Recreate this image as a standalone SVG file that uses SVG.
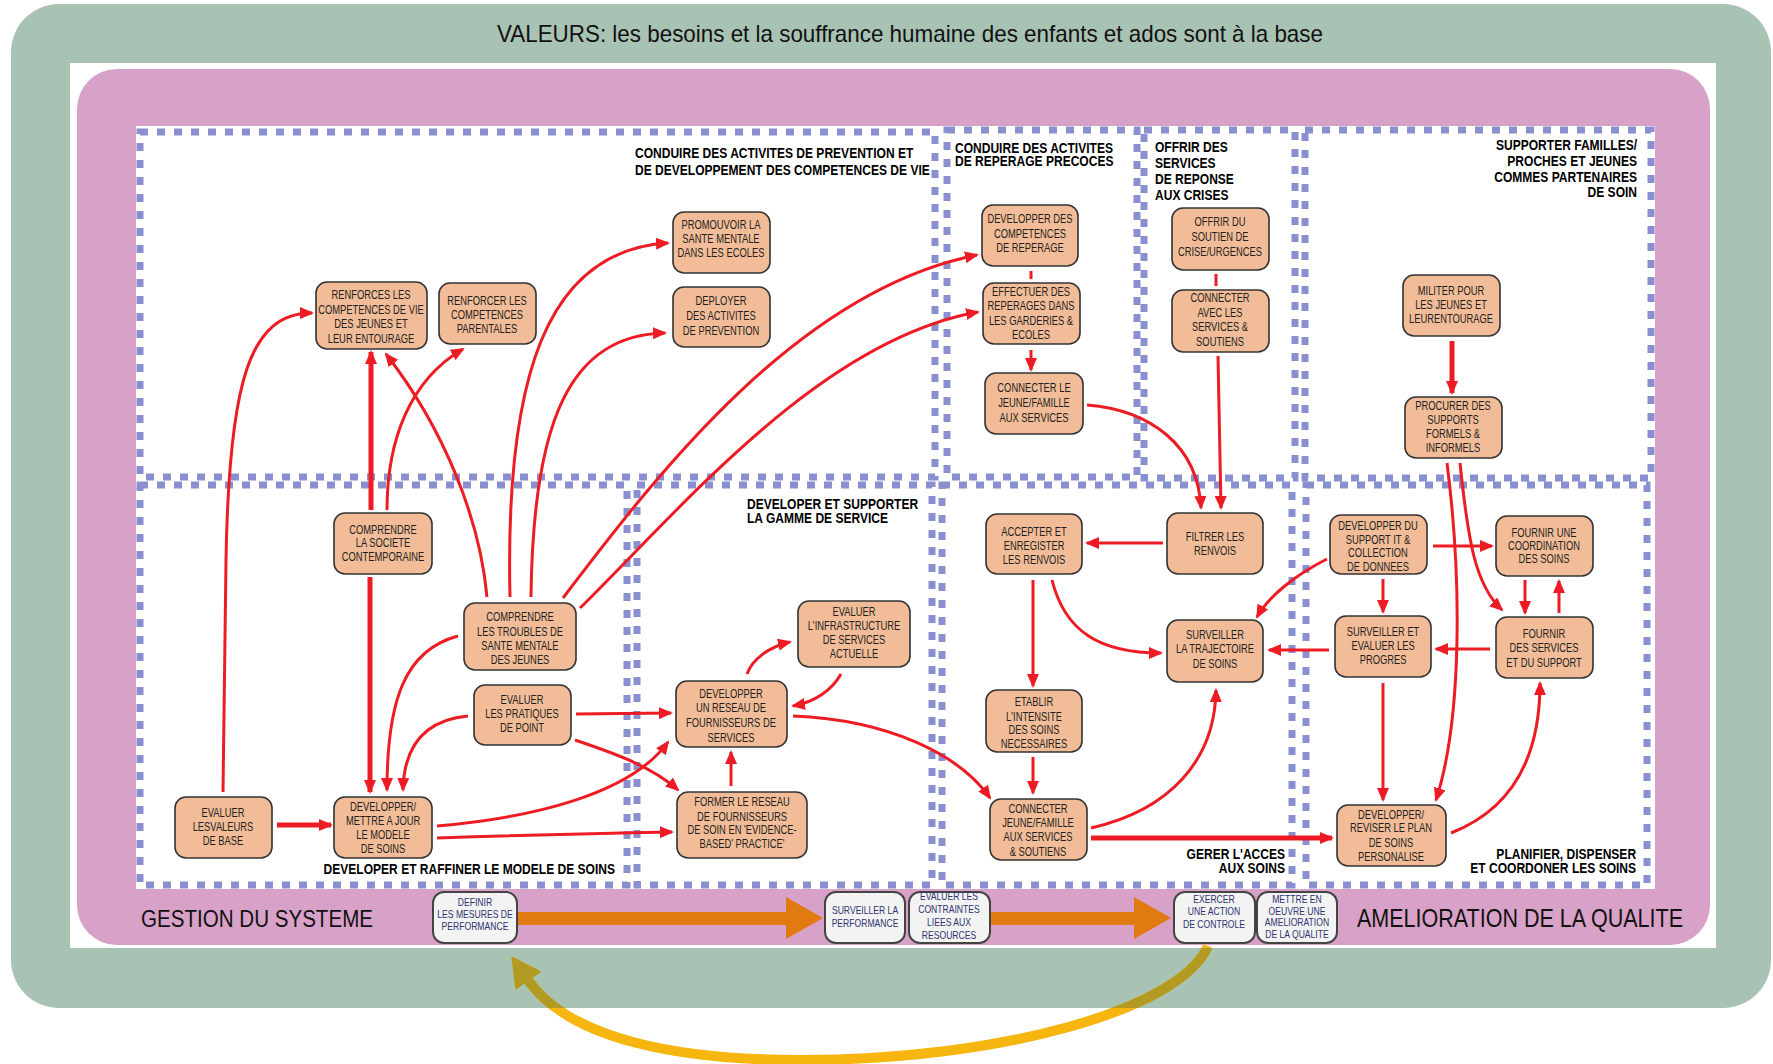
<svg xmlns="http://www.w3.org/2000/svg" width="1773" height="1064" viewBox="0 0 1773 1064">
<style>
.reg{fill:none;stroke:#8A8FD0;stroke-width:7;stroke-dasharray:8 9}
.node rect{fill:#F2BC98;stroke:#333;stroke-width:1.6}
.nt{font-family:"Liberation Sans",Arial,sans-serif;font-size:12px;fill:#231F20;text-anchor:middle;transform-box:fill-box;transform-origin:center;transform:scaleX(0.78)}
.rt{font-family:"Liberation Sans",Arial,sans-serif;font-weight:bold;font-size:14px;fill:#000;transform-box:fill-box;transform:scaleX(0.86)}
.rtl{transform-origin:left center}
.rtr{text-anchor:end;transform-origin:right center}
.c{fill:none;stroke:#ED1C24;stroke-width:3;marker-end:url(#ah)}
.ct{stroke-width:5}
.cn{fill:none;stroke:#ED1C24;stroke-width:3}
.bb rect{fill:#F3F3F3;stroke:#444;stroke-width:2}
.bt{font-family:"Liberation Sans",Arial,sans-serif;font-size:10px;fill:#2E3470;text-anchor:middle;transform-box:fill-box;transform-origin:center;transform:scaleX(0.86)}
.big{font-family:"Liberation Sans",Arial,sans-serif;fill:#111}
</style>
<defs>
<marker id="ah" viewBox="0 0 14 12" refX="12" refY="6" markerWidth="14" markerHeight="12" markerUnits="userSpaceOnUse" orient="auto"><path d="M0,0 L14,6 L0,12 z" fill="#ED1C24"/></marker>
<marker id="ay" viewBox="0 0 30 32" refX="1" refY="16" markerWidth="30" markerHeight="32" markerUnits="userSpaceOnUse" orient="auto"><path d="M0,0 L30,16 L0,32 z" fill="#F6B60F"/></marker>
<marker id="ao" viewBox="0 0 30 32" refX="1" refY="16" markerWidth="30" markerHeight="32" markerUnits="userSpaceOnUse" orient="auto"><path d="M0,0 L30,16 L0,32 z" fill="#B39A22"/></marker>
<clipPath id="greenband"><rect x="0" y="948" width="1773" height="60"/></clipPath>
</defs>
<rect x="0" y="0" width="1773" height="1064" fill="#FFFFFF"/>
<g id="frame">
<rect x="11" y="4" width="1760" height="1004" rx="48" fill="#A8C3B4"/>
<rect x="70" y="63" width="1646" height="885" fill="#FFFFFF"/>
<rect x="77" y="69" width="1633" height="876" rx="40" fill="#D8A1C7"/>
<rect x="136" y="126" width="1519" height="763" fill="#FFFFFF"/>
</g>
<text class="big" x="497" y="42" font-size="24" textLength="826" lengthAdjust="spacingAndGlyphs">VALEURS: les besoins et la souffrance humaine des enfants et ados sont à la base</text>
<g id="regions">
<g id="r-prevention"><rect class="reg" x="140" y="132" width="795" height="345"/>
<text class="rt rtl"><tspan x="635" y="158">CONDUIRE DES ACTIVITES DE PREVENTION ET</tspan><tspan x="635" y="175">DE DEVELOPPEMENT DES COMPETENCES DE VIE</tspan></text></g>
<g id="r-reperage"><rect class="reg" x="947" y="130" width="190" height="347"/>
<text class="rt rtl"><tspan x="955" y="153">CONDUIRE DES ACTIVITES</tspan><tspan x="955" y="166">DE REPERAGE PRECOCES</tspan></text></g>
<g id="r-crises"><rect class="reg" x="1144" y="130" width="151" height="348"/>
<text class="rt rtl"><tspan x="1155" y="152">OFFRIR DES</tspan><tspan x="1155" y="168">SERVICES</tspan><tspan x="1155" y="184">DE REPONSE</tspan><tspan x="1155" y="200">AUX CRISES</tspan></text></g>
<g id="r-familles"><rect class="reg" x="1305" y="130" width="346" height="348"/>
<text class="rt rtr"><tspan x="1637" y="150">SUPPORTER FAMILLES/</tspan><tspan x="1637" y="166">PROCHES ET JEUNES</tspan><tspan x="1637" y="182">COMMES PARTENAIRES</tspan><tspan x="1637" y="197">DE SOIN</tspan></text></g>
<g id="r-modele"><rect class="reg" x="140" y="485" width="487" height="400"/>
<text class="rt rtr"><tspan x="615" y="874">DEVELOPER ET RAFFINER LE MODELE DE SOINS</tspan></text></g>
<g id="r-gamme"><rect class="reg" x="637" y="485" width="295" height="400"/>
<text class="rt rtl"><tspan x="747" y="509">DEVELOPER ET SUPPORTER</tspan><tspan x="747" y="523">LA GAMME DE SERVICE</tspan></text></g>
<g id="r-acces"><rect class="reg" x="942" y="485" width="350" height="400"/>
<text class="rt rtr"><tspan x="1285" y="859">GERER L'ACCES</tspan><tspan x="1285" y="873">AUX SOINS</tspan></text></g>
<g id="r-planifier"><rect class="reg" x="1306" y="485" width="341" height="400"/>
<text class="rt rtr"><tspan x="1636" y="859">PLANIFIER, DISPENSER</tspan><tspan x="1636" y="873">ET COORDONER LES SOINS</tspan></text></g>
</g>
<g id="connectors">
<path class="c" d="M223 792 L226 560 C229 380 250 313 312 313"/>
<path class="c ct" d="M371 510 L371 352"/>
<path class="c" d="M387 510 C387 440 410 380 463 349"/>
<path class="c" d="M487 597 C480 520 445 430 386 354"/>
<path class="c" d="M510 597 C505 380 545 250 668 243"/>
<path class="c" d="M531 597 C533 420 570 335 665 333"/>
<path class="c" d="M563 598 C660 470 800 290 977 255"/>
<path class="c" d="M580 608 C680 510 820 340 978 312"/>
<path class="c" d="M458 636 C405 650 387 700 387 790"/>
<path class="c" d="M468 716 C425 720 404 745 403 790"/>
<path class="c ct" d="M370 577 L370 792"/>
<path class="c ct" d="M277 825 L331 825"/>
<path class="c" d="M437 826 C530 818 630 795 668 742"/>
<path class="c" d="M437 838 Q560 834 672 832"/>
<path class="c" d="M576 714 L671 713"/>
<path class="c" d="M575 740 C610 752 650 765 678 790"/>
<path class="c" d="M731 786 L731 752"/>
<path class="c" d="M747 674 C752 660 768 647 790 642"/>
<path class="c" d="M841 674 C832 690 815 702 793 706"/>
<path class="c" d="M793 716 C890 720 960 755 990 798"/>
<path class="cn" d="M1031 271 L1031 279"/>
<path class="c" d="M1031 350 L1031 370"/>
<path class="cn" d="M1216 274 L1216 286"/>
<path class="c" d="M1087 405 C1150 410 1198 445 1201 508"/>
<path class="c" d="M1218 356 L1221 508"/>
<path class="c ct" d="M1452 341 L1452 393"/>
<path class="c" d="M1033 580 L1033 686"/>
<path class="c" d="M1033 757 L1033 793"/>
<path class="c" d="M1052 580 C1065 632 1100 653 1161 653"/>
<path class="c" d="M1163 543 L1087 543"/>
<path class="c" d="M1327 559 C1295 575 1268 597 1257 617"/>
<path class="c" d="M1329 650 L1269 650"/>
<path class="c" d="M1490 649 L1436 649"/>
<path class="c" d="M1433 546 L1492 546"/>
<path class="c" d="M1383 579 L1383 612"/>
<path class="c" d="M1525 580 L1525 613"/>
<path class="c" d="M1559 613 L1559 581"/>
<path class="c" d="M1383 683 L1383 800"/>
<path class="c" d="M1447 463 C1462 580 1462 720 1436 800"/>
<path class="c" d="M1460 463 C1468 540 1475 585 1502 610"/>
<path class="c" d="M1091 828 C1170 810 1215 760 1216 690"/>
<path class="c ct" d="M1091 838 L1332 838"/>
<path class="c" d="M1451 833 C1510 810 1540 760 1540 683"/>
<g id="orange-arrows" fill="#E27A12">
<rect x="517" y="912" width="272" height="13"/>
<polygon points="786,897 823,918 786,939"/>
<rect x="990" y="912" width="146" height="13"/>
<polygon points="1134,897 1171,918 1134,939"/>
</g>
<path d="M1208 946 C1180 1010 1000 1060 800 1060 C680 1060 570 1040 528 980" fill="none" stroke="#F6B60F" stroke-width="10" marker-end="url(#ay)"/>
<path d="M1208 946 C1180 1010 1000 1060 800 1060 C680 1060 570 1040 528 980" fill="none" stroke="#B39A22" stroke-width="10" marker-end="url(#ao)" clip-path="url(#greenband)"/>
</g>
<g id="nodes">
<g id="n-renforces" class="node"><rect x="316" y="282" width="111" height="67" rx="11"/><text class="nt"><tspan x="371" y="299">RENFORCES LES</tspan><tspan x="371" y="314">COMPETENCES DE VIE</tspan><tspan x="371" y="328">DES JEUNES ET</tspan><tspan x="371" y="343">LEUR ENTOURAGE</tspan></text></g>
<g id="n-parentales" class="node"><rect x="439" y="283" width="97" height="61" rx="11"/><text class="nt"><tspan x="487" y="305">RENFORCER LES</tspan><tspan x="487" y="319">COMPETENCES</tspan><tspan x="487" y="333">PARENTALES</tspan></text></g>
<g id="n-promouvoir" class="node"><rect x="673" y="212" width="97" height="61" rx="11"/><text class="nt"><tspan x="721" y="229">PROMOUVOIR LA</tspan><tspan x="721" y="243">SANTE MENTALE</tspan><tspan x="721" y="257">DANS LES ECOLES</tspan></text></g>
<g id="n-deployer" class="node"><rect x="673" y="287" width="97" height="60" rx="11"/><text class="nt"><tspan x="721" y="305">DEPLOYER</tspan><tspan x="721" y="320">DES ACTIVITES</tspan><tspan x="721" y="335">DE PREVENTION</tspan></text></g>
<g id="n-devcomp" class="node"><rect x="982" y="205" width="96" height="61" rx="11"/><text class="nt"><tspan x="1030" y="223">DEVELOPPER DES</tspan><tspan x="1030" y="238">COMPETENCES</tspan><tspan x="1030" y="252">DE REPERAGE</tspan></text></g>
<g id="n-effectuer" class="node"><rect x="983" y="283" width="97" height="61" rx="11"/><text class="nt"><tspan x="1031" y="296">EFFECTUER DES</tspan><tspan x="1031" y="310">REPERAGES DANS</tspan><tspan x="1031" y="325">LES GARDERIES &amp;</tspan><tspan x="1031" y="339">ECOLES</tspan></text></g>
<g id="n-connecterle" class="node"><rect x="985" y="373" width="98" height="61" rx="11"/><text class="nt"><tspan x="1034" y="392">CONNECTER LE</tspan><tspan x="1034" y="407">JEUNE/FAMILLE</tspan><tspan x="1034" y="422">AUX SERVICES</tspan></text></g>
<g id="n-offrir" class="node"><rect x="1172" y="208" width="97" height="62" rx="11"/><text class="nt"><tspan x="1220" y="226">OFFRIR DU</tspan><tspan x="1220" y="241">SOUTIEN DE</tspan><tspan x="1220" y="256">CRISE/URGENCES</tspan></text></g>
<g id="n-connecteravec" class="node"><rect x="1172" y="290" width="97" height="62" rx="11"/><text class="nt"><tspan x="1220" y="302">CONNECTER</tspan><tspan x="1220" y="317">AVEC LES</tspan><tspan x="1220" y="331">SERVICES &amp;</tspan><tspan x="1220" y="346">SOUTIENS</tspan></text></g>
<g id="n-militer" class="node"><rect x="1403" y="275" width="97" height="61" rx="11"/><text class="nt"><tspan x="1451" y="295">MILITER POUR</tspan><tspan x="1451" y="309">LES JEUNES ET</tspan><tspan x="1451" y="323">LEURENTOURAGE</tspan></text></g>
<g id="n-procurer" class="node"><rect x="1405" y="397" width="97" height="61" rx="11"/><text class="nt"><tspan x="1453" y="410">PROCURER DES</tspan><tspan x="1453" y="424">SUPPORTS</tspan><tspan x="1453" y="438">FORMELS &amp;</tspan><tspan x="1453" y="452">INFORMELS</tspan></text></g>
<g id="n-societe" class="node"><rect x="334" y="513" width="98" height="61" rx="11"/><text class="nt"><tspan x="383" y="534">COMPRENDRE</tspan><tspan x="383" y="547">LA SOCIETE</tspan><tspan x="383" y="561">CONTEMPORAINE</tspan></text></g>
<g id="n-troubles" class="node"><rect x="464" y="603" width="112" height="67" rx="11"/><text class="nt"><tspan x="520" y="621">COMPRENDRE</tspan><tspan x="520" y="636">LES TROUBLES DE</tspan><tspan x="520" y="650">SANTE MENTALE</tspan><tspan x="520" y="664">DES JEUNES</tspan></text></g>
<g id="n-pratiques" class="node"><rect x="474" y="685" width="97" height="60" rx="11"/><text class="nt"><tspan x="522" y="704">EVALUER</tspan><tspan x="522" y="718">LES PRATIQUES</tspan><tspan x="522" y="732">DE POINT</tspan></text></g>
<g id="n-valeurs" class="node"><rect x="175" y="797" width="97" height="61" rx="11"/><text class="nt"><tspan x="223" y="817">EVALUER</tspan><tspan x="223" y="831">LESVALEURS</tspan><tspan x="223" y="845">DE BASE</tspan></text></g>
<g id="n-modele" class="node"><rect x="334" y="797" width="98" height="61" rx="11"/><text class="nt"><tspan x="383" y="811">DEVELOPPER/</tspan><tspan x="383" y="825">METTRE A JOUR</tspan><tspan x="383" y="839">LE MODELE</tspan><tspan x="383" y="853">DE SOINS</tspan></text></g>
<g id="n-infra" class="node"><rect x="798" y="601" width="112" height="66" rx="11"/><text class="nt"><tspan x="854" y="616">EVALUER</tspan><tspan x="854" y="630">L'INFRASTRUCTURE</tspan><tspan x="854" y="644">DE SERVICES</tspan><tspan x="854" y="658">ACTUELLE</tspan></text></g>
<g id="n-reseau" class="node"><rect x="676" y="681" width="111" height="66" rx="11"/><text class="nt"><tspan x="731" y="698">DEVELOPPER</tspan><tspan x="731" y="712">UN RESEAU DE</tspan><tspan x="731" y="727">FOURNISSEURS DE</tspan><tspan x="731" y="742">SERVICES</tspan></text></g>
<g id="n-former" class="node"><rect x="677" y="792" width="130" height="66" rx="11"/><text class="nt"><tspan x="742" y="806">FORMER LE RESEAU</tspan><tspan x="742" y="821">DE FOURNISSEURS</tspan><tspan x="742" y="834">DE SOIN EN 'EVIDENCE-</tspan><tspan x="742" y="848">BASED' PRACTICE'</tspan></text></g>
<g id="n-accepter" class="node"><rect x="986" y="514" width="96" height="60" rx="11"/><text class="nt"><tspan x="1034" y="536">ACCEPTER ET</tspan><tspan x="1034" y="550">ENREGISTER</tspan><tspan x="1034" y="564">LES RENVOIS</tspan></text></g>
<g id="n-etablir" class="node"><rect x="986" y="690" width="96" height="62" rx="11"/><text class="nt"><tspan x="1034" y="706">ETABLIR</tspan><tspan x="1034" y="721">L'INTENSITE</tspan><tspan x="1034" y="734">DES SOINS</tspan><tspan x="1034" y="748">NECESSAIRES</tspan></text></g>
<g id="n-connecterj" class="node"><rect x="990" y="799" width="97" height="61" rx="11"/><text class="nt"><tspan x="1038" y="813">CONNECTER</tspan><tspan x="1038" y="827">JEUNE/FAMILLE</tspan><tspan x="1038" y="841">AUX SERVICES</tspan><tspan x="1038" y="856">&amp; SOUTIENS</tspan></text></g>
<g id="n-filtrer" class="node"><rect x="1167" y="513" width="96" height="61" rx="11"/><text class="nt"><tspan x="1215" y="541">FILTRER LES</tspan><tspan x="1215" y="555">RENVOIS</tspan></text></g>
<g id="n-trajectoire" class="node"><rect x="1167" y="620" width="96" height="62" rx="11"/><text class="nt"><tspan x="1215" y="639">SURVEILLER</tspan><tspan x="1215" y="653">LA TRAJECTOIRE</tspan><tspan x="1215" y="668">DE SOINS</tspan></text></g>
<g id="n-it" class="node"><rect x="1330" y="515" width="97" height="59" rx="11"/><text class="nt"><tspan x="1378" y="530">DEVELOPPER DU</tspan><tspan x="1378" y="544">SUPPORT IT &amp;</tspan><tspan x="1378" y="557">COLLECTION</tspan><tspan x="1378" y="571">DE DONNEES</tspan></text></g>
<g id="n-coord" class="node"><rect x="1496" y="516" width="97" height="60" rx="11"/><text class="nt"><tspan x="1544" y="537">FOURNIR UNE</tspan><tspan x="1544" y="550">COORDINATION</tspan><tspan x="1544" y="563">DES SOINS</tspan></text></g>
<g id="n-progres" class="node"><rect x="1335" y="616" width="96" height="61" rx="11"/><text class="nt"><tspan x="1383" y="636">SURVEILLER ET</tspan><tspan x="1383" y="650">EVALUER LES</tspan><tspan x="1383" y="664">PROGRES</tspan></text></g>
<g id="n-fournir" class="node"><rect x="1496" y="617" width="97" height="61" rx="11"/><text class="nt"><tspan x="1544" y="638">FOURNIR</tspan><tspan x="1544" y="652">DES SERVICES</tspan><tspan x="1544" y="667">ET DU SUPPORT</tspan></text></g>
<g id="n-plan" class="node"><rect x="1337" y="805" width="109" height="61" rx="11"/><text class="nt"><tspan x="1391" y="819">DEVELOPPER/</tspan><tspan x="1391" y="832">REVISER LE PLAN</tspan><tspan x="1391" y="847">DE SOINS</tspan><tspan x="1391" y="861">PERSONALISE</tspan></text></g>
</g>
<g id="bottom-boxes">
<g id="b-definir" class="bb"><rect x="433" y="892" width="84" height="51" rx="11"/><text class="bt"><tspan x="475" y="906.5">DEFINIR</tspan><tspan x="475" y="918.5">LES MESURES DE</tspan><tspan x="475" y="930.5">PERFORMANCE</tspan></text></g>
<g id="b-surveiller" class="bb"><rect x="825" y="892" width="80" height="51" rx="11"/><text class="bt"><tspan x="865" y="914.5">SURVEILLER LA</tspan><tspan x="865" y="927.5">PERFORMANCE</tspan></text></g>
<g id="b-contraintes" class="bb"><rect x="909" y="892" width="81" height="51" rx="11"/><text class="bt"><tspan x="949" y="900.5">EVALUER LES</tspan><tspan x="949" y="913.5">CONTRAINTES</tspan><tspan x="949" y="926.5">LIEES AUX</tspan><tspan x="949" y="939.5">RESOURCES</tspan></text></g>
<g id="b-exercer" class="bb"><rect x="1174" y="892" width="81" height="51" rx="11"/><text class="bt"><tspan x="1214" y="903.5">EXERCER</tspan><tspan x="1214" y="915.5">UNE ACTION</tspan><tspan x="1214" y="928.5">DE CONTROLE</tspan></text></g>
<g id="b-mettre" class="bb"><rect x="1257" y="892" width="80" height="51" rx="11"/><text class="bt"><tspan x="1297" y="903.5">METTRE EN</tspan><tspan x="1297" y="915">OEUVRE UNE</tspan><tspan x="1297" y="926.5">AMELIORATION</tspan><tspan x="1297" y="938.5">DE LA QUALITE</tspan></text></g>
</g>
<text class="big" x="141" y="927" font-size="23" textLength="232" lengthAdjust="spacingAndGlyphs">GESTION DU SYSTEME</text>
<text class="big" x="1357" y="927" font-size="25" textLength="326" lengthAdjust="spacingAndGlyphs">AMELIORATION DE LA QUALITE</text>
</svg>
